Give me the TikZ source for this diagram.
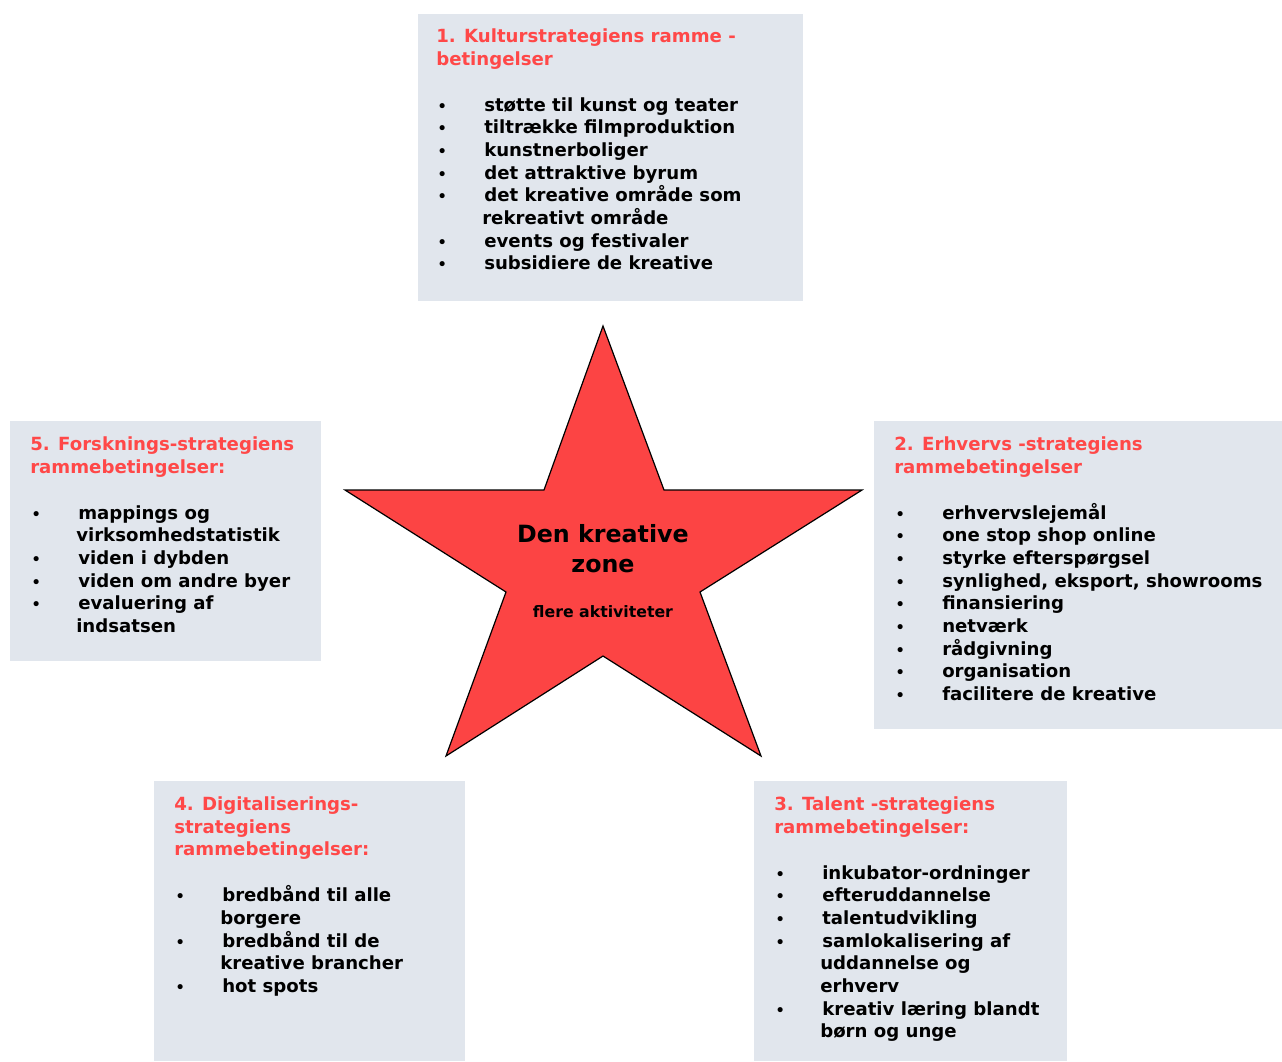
\documentclass[tikz,border=0pt]{standalone}
\usepackage{fontspec}
\setmainfont{DejaVu Sans}
\definecolor{panelgrey}{RGB}{225,230,237}
\definecolor{zonered}{RGB}{252,68,68}
\definecolor{headred}{RGB}{255,72,72}
\newcommand{\pkt}{\makebox[36pt][l]{\hspace{1pt}\scalebox{0.8}{\textbullet}}}
\newcommand{\fort}{\hspace*{34.5pt}}
\newcommand{\hd}[1]{\textcolor{headred}{#1}}
\tikzset{
  panel/.style={fill=panelgrey},
  paneltext/.style={anchor=north west, inner sep=0pt, align=left,
    font=\bfseries\fontsize{13.6}{17}\selectfont}
}
\begin{document}
\begin{tikzpicture}[x=0.75pt,y=-0.75pt]
\useasboundingbox (0,0) rectangle (1282,1061);
% the five panels
\fill[panel] (418,14) rectangle (803,301);
\fill[panel] (874,421) rectangle (1282,729);
\fill[panel] (754,781) rectangle (1067,1061);
\fill[panel] (154,781) rectangle (465,1061);
\fill[panel] (10,421) rectangle (321,661);
% star in the middle
\filldraw[fill=zonered, draw=black, line width=0.9pt, line join=miter]
  (603,326) -- (664,490) -- (862,490) -- (700,592) -- (761,756)
  -- (603,656) -- (446,756) -- (506,592) -- (345,490) -- (544,490) -- cycle;
\node[font=\bfseries\fontsize{17.8}{22.5}\selectfont, align=center] (zone) at (603,549) {Den kreative\\zone};
\node[font=\bfseries\fontsize{11.8}{13}\selectfont] (flere) at (603,612) {flere aktiviteter};

\node[paneltext] (kultur) at (436,28.5) {%
\hd{1. Kulturstrategiens ramme -}\\
\hd{betingelser}\\[17.5pt]
\pkt støtte til kunst og teater\\
\pkt tiltrække filmproduktion\\
\pkt kunstnerboliger\\
\pkt det attraktive byrum\\
\pkt det kreative område som\\
\fort rekreativt område\\
\pkt events og festivaler\\
\pkt subsidiere de kreative};

\node[paneltext] (erhverv) at (894,436.5) {%
\hd{2. Erhvervs -strategiens}\\
\hd{rammebetingelser}\\[17.5pt]
\pkt erhvervslejemål\\
\pkt one stop shop online\\
\pkt styrke efterspørgsel\\
\pkt synlighed, eksport, showrooms\\
\pkt finansiering\\
\pkt netværk\\
\pkt rådgivning\\
\pkt organisation\\
\pkt facilitere de kreative};

\node[paneltext] (talent) at (774,796.5) {%
\hd{3. Talent -strategiens}\\
\hd{rammebetingelser:}\\[17.5pt]
\pkt inkubator-ordninger\\
\pkt efteruddannelse\\
\pkt talentudvikling\\
\pkt samlokalisering af\\
\fort uddannelse og\\
\fort erhverv\\
\pkt kreativ læring blandt\\
\fort børn og unge};

\node[paneltext] (digital) at (174,796.5) {%
\hd{4. Digitaliserings-}\\
\hd{strategiens}\\
\hd{rammebetingelser:}\\[17.5pt]
\pkt bredbånd til alle\\
\fort borgere\\
\pkt bredbånd til de\\
\fort kreative brancher\\
\pkt hot spots};

\node[paneltext] (forsk) at (30,436.5) {%
\hd{5. Forsknings-strategiens}\\
\hd{rammebetingelser:}\\[17.5pt]
\pkt mappings og\\
\fort virksomhedstatistik\\
\pkt viden i dybden\\
\pkt viden om andre byer\\
\pkt evaluering af\\
\fort indsatsen};
\end{tikzpicture}
\end{document}
